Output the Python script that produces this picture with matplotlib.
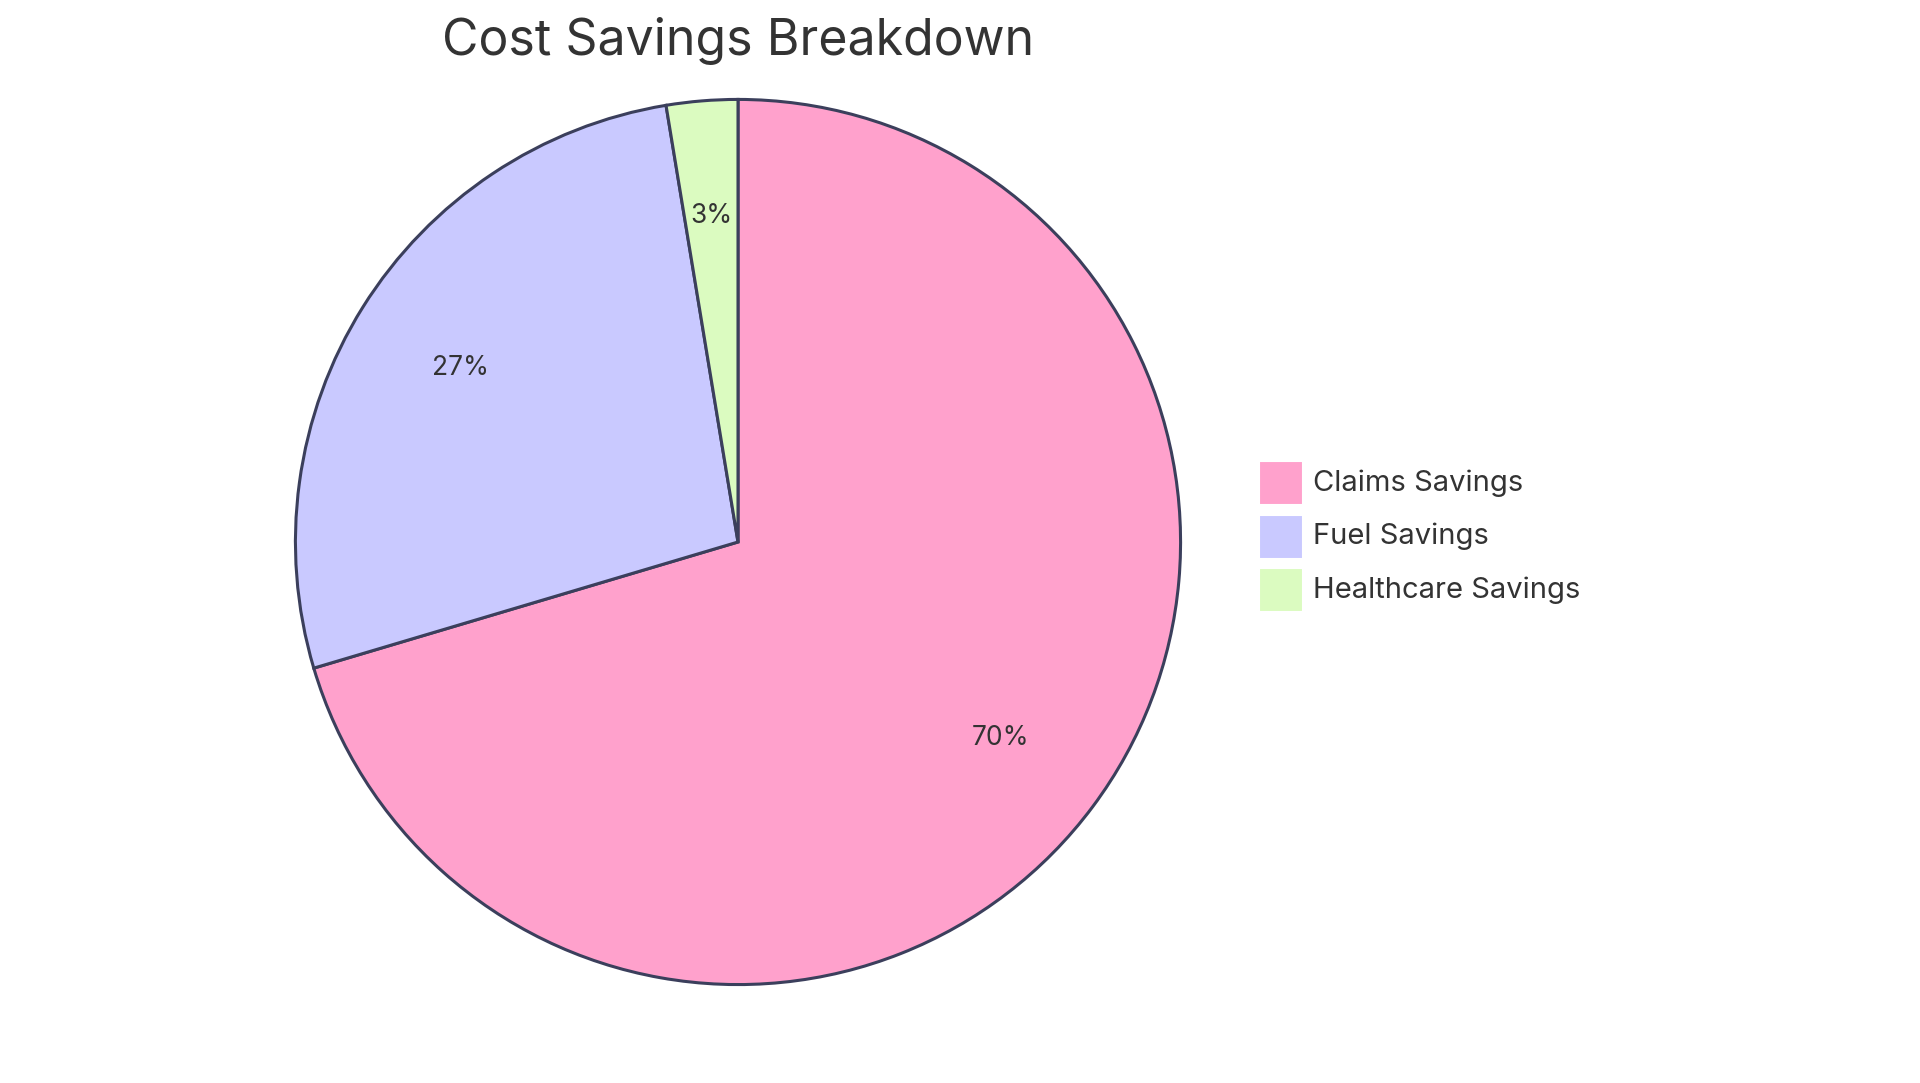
import matplotlib
matplotlib.use("Agg")
import matplotlib.pyplot as plt
from matplotlib.patches import Rectangle

labels = ["Claims Savings", "Fuel Savings", "Healthcare Savings"]
values = [70.4, 27.0, 2.6]
colors = ["#FFA1CC", "#C9C9FF", "#DBFBC0"]
title = "Cost Savings Breakdown"

plt.rcParams['font.family'] = ['Inter', 'DejaVu Sans']
W, H = 1920, 1083
fig = plt.figure(figsize=(W/100, H/100), dpi=100)
cx, cy, r = 738, 541, 447
ax = fig.add_axes([(cx-r)/W, (cy-r)/H, 2*r/W, 2*r/H])
ax.pie(values, colors=colors, startangle=90, counterclock=False,
       autopct=lambda p: f"{p:.0f}%", pctdistance=0.74, radius=1,
       wedgeprops=dict(edgecolor="#3B3F5C", linewidth=2.2),
       textprops=dict(fontsize=19, color="#333333"))
ax.set_xlim(-1.01, 1.01); ax.set_ylim(-1.01, 1.01)
ax.set_aspect('equal'); ax.axis('off')

fig.text(cx/W, 1-41/H, title, ha='center', va='center', fontsize=36, color="#333333")

sq = 44
for i, (lab, col) in enumerate(zip(labels, colors)):
    yc = 483 + i*53.5
    fig.add_artist(Rectangle((1259/W, 1-(yc+sq/2)/H), sq/W, sq/H, transform=fig.transFigure,
                             facecolor=col, edgecolor="white", linewidth=1.5))
    fig.text((1259+sq+10)/W, 1-yc/H, lab, ha='left', va='center', fontsize=21, color="#333333")

fig.savefig("out.png", dpi=100, facecolor="white")
